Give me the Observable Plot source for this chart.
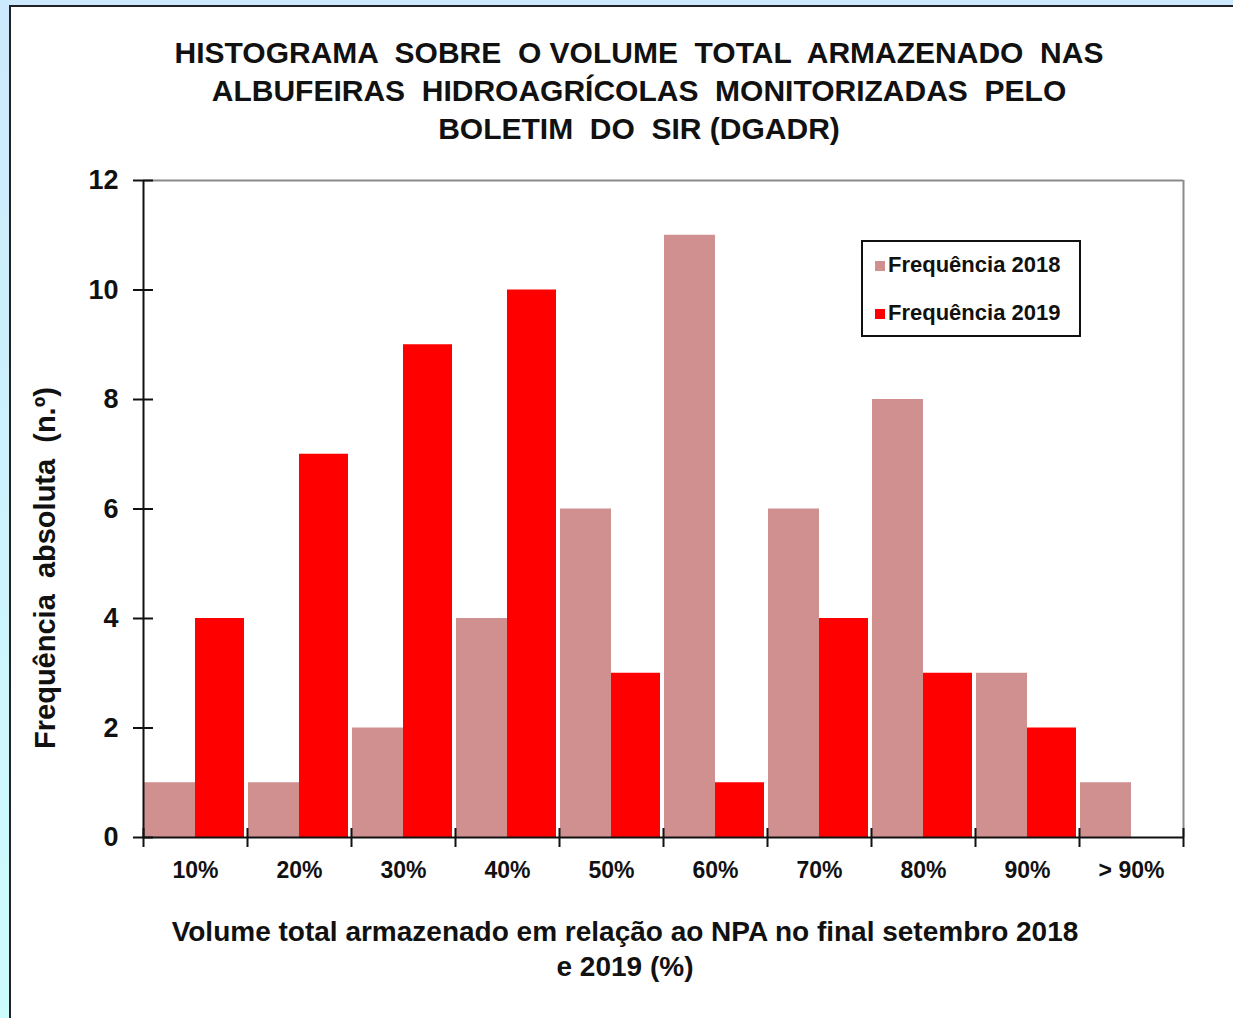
<!DOCTYPE html>
<html>
<head>
<meta charset="utf-8">
<script src="https://cdn.jsdelivr.net/npm/d3@7"></script>
<script src="https://cdn.jsdelivr.net/npm/@observablehq/plot@0.6"></script>
<style>
  html, body { margin: 0; padding: 0; }
  body {
    width: 1233px; height: 1018px; overflow: hidden; position: relative;
    background: linear-gradient(#cde9fd, #cdfcfd);
    font-family: "Liberation Sans", Arial, sans-serif; color: #111;
  }
  #panel {
    position: absolute; left: 9px; top: 5px; width: 1300px; height: 1100px;
    background: #fff; border: 2px solid #222; box-sizing: border-box;
  }
  .t { position: absolute; font-weight: bold; white-space: pre; color: #111; }
  #title { left: 0; width: 1278px; top: 34px; text-align: center; font-size: 30px; line-height: 38px; }
  #xtitle { left: 0; width: 1250px; top: 914px; text-align: center; font-size: 28px; line-height: 35px; }
  #ytitle { left: 45px; top: 568px; font-size: 29px; transform: translate(-50%, -50%) rotate(-90deg); }
  #legend {
    position: absolute; left: 861px; top: 240px; width: 220px; height: 97px;
    border: 2px solid #111; box-sizing: border-box; background: #fff;
  }
  .item { position: absolute; left: 12px; font-weight: bold; font-size: 22px; line-height: 24px; white-space: nowrap; }
  .sw { display: inline-block; width: 10px; height: 10px; margin-right: 3px; vertical-align: 1px; }
  #chart { position: absolute; left: 12px; top: 150px; }
</style>
</head>
<body>
<div id="panel"></div>
<div id="title" class="t">HISTOGRAMA  SOBRE  O VOLUME  TOTAL  ARMAZENADO  NAS
ALBUFEIRAS  HIDROAGRÍCOLAS  MONITORIZADAS  PELO
BOLETIM  DO  SIR (DGADR)</div>
<div id="chart"></div>
<div id="ytitle" class="t">Frequência  absoluta  (n.º)</div>
<div id="xtitle" class="t">Volume total armazenado em relação ao NPA no final setembro 2018
e 2019 (%)</div>
<div id="legend">
  <div class="item" style="top:11px"><span class="sw" style="background:#d09090"></span>Frequência 2018</div>
  <div class="item" style="top:59px"><span class="sw" style="background:#ff0000"></span>Frequência 2019</div>
</div>
<script>
const categories = ["10%", "20%", "30%", "40%", "50%", "60%", "70%", "80%", "90%", "> 90%"];
const freq2018 = [1, 1, 2, 4, 6, 11, 6, 8, 3, 1];
const freq2019 = [4, 7, 9, 10, 3, 1, 4, 3, 2, 0];
const yTicks = [0, 2, 4, 6, 8, 10, 12];
const xBounds = d3.range(categories.length + 1);

const rows2018 = categories.map((c, i) => ({i, v: freq2018[i]}));
const rows2019 = categories.map((c, i) => ({i, v: freq2019[i]}));

const W = 1221, H = 760;
const chart = Plot.plot({
  width: W, height: H,
  marginLeft: 131, marginRight: 50, marginTop: 30, marginBottom: 73,
  style: {background: "transparent", fontFamily: "'Liberation Sans', Arial, sans-serif", color: "#111", overflow: "visible"},
  x: {type: "linear", domain: [0, categories.length], axis: null},
  y: {domain: [0, 12], axis: null},
  marks: [
    Plot.rectY(rows2018, {x1: d => d.i, x2: d => d.i + 0.5, y1: 0, y2: "v", insetLeft: 1, fill: "#d09090"}),
    Plot.rectY(rows2019, {x1: d => d.i + 0.5, x2: d => d.i + 1, y1: 0, y2: "v", insetRight: 3, fill: "#ff0000"}),
    Plot.ruleY([12], {stroke: "#8a8a8a", strokeWidth: 2}),
    Plot.ruleX([categories.length], {stroke: "#8a8a8a", strokeWidth: 2}),
    Plot.ruleX([0], {stroke: "#111", strokeWidth: 2}),
    Plot.ruleY([0], {stroke: "#111", strokeWidth: 2}),
    Plot.ruleY(yTicks, {y: d => d, x1: 0, x2: 0, insetLeft: -10, insetRight: -10, stroke: "#111", strokeWidth: 2}),
    Plot.ruleX(xBounds, {x: d => d, y1: 0, y2: 0, insetTop: -9, insetBottom: -10, stroke: "#111", strokeWidth: 2}),
    Plot.text(yTicks, {x: 0, y: d => d, text: d => String(d), dx: -25, textAnchor: "end", fontSize: 27, fontWeight: "bold", fill: "#111"}),
    Plot.text(categories, {x: (d, i) => i + 0.5, y: 0, text: d => d, dy: 33, fontSize: 23, fontWeight: "bold", fill: "#111"})
  ]
});
document.getElementById("chart").appendChild(chart);
</script>
</body>
</html>
